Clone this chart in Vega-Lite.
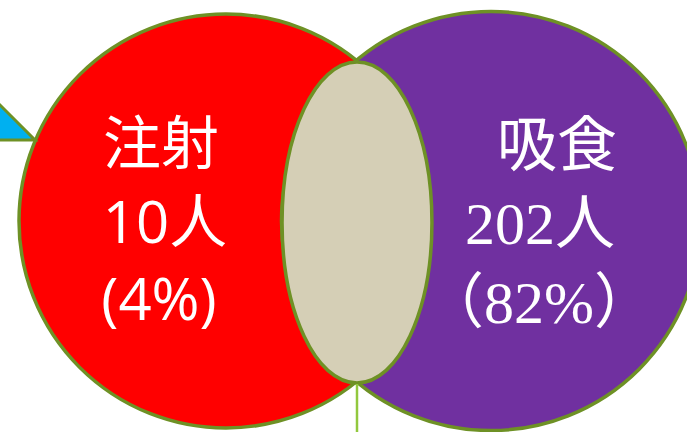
{
  "$schema": "https://vega.github.io/schema/vega-lite/v6.json",
  "width": 687,
  "height": 432,
  "autosize": "none",
  "padding": 0,
  "background": "white",
  "config": {"view": {"stroke": null}},
  "layer": [
    {
      "data": {"values": [{"set": "注射", "cx": 226, "cy": 221}]},
      "mark": {"type": "point", "shape": "circle", "filled": true, "fill": "#FF0000", "stroke": "#6E9125", "strokeWidth": 3.5, "opacity": 1, "size": 171396},
      "encoding": {
        "x": {"field": "cx", "type": "quantitative", "scale": {"domain": [0, 687], "range": [0, 687], "nice": false, "zero": false}, "axis": null},
        "y": {"field": "cy", "type": "quantitative", "scale": {"domain": [0, 432], "range": [0, 432], "nice": false, "zero": false}, "axis": null}
      }
    },
    {
      "data": {"values": [{"set": "吸食", "cx": 491, "cy": 221}]},
      "mark": {"type": "point", "shape": "circle", "filled": true, "fill": "#7030A0", "stroke": "#6E9125", "strokeWidth": 3.5, "opacity": 1, "size": 175561},
      "encoding": {
        "x": {"field": "cx", "type": "quantitative", "scale": {"domain": [0, 687], "range": [0, 687], "nice": false, "zero": false}, "axis": null},
        "y": {"field": "cy", "type": "quantitative", "scale": {"domain": [0, 432], "range": [0, 432], "nice": false, "zero": false}, "axis": null}
      }
    },
    {
      "data": {"values": [{"set": "both", "cx": 357, "cy": 222.5}]},
      "mark": {"type": "point", "shape": "M -0.467 0 A 0.467 1 0 1 1 0.467 0 A 0.467 1 0 1 1 -0.467 0 Z", "filled": true, "fill": "#D5CFB6", "stroke": "#6E9125", "strokeWidth": 3.5, "opacity": 1, "size": 103041},
      "encoding": {
        "x": {"field": "cx", "type": "quantitative", "scale": {"domain": [0, 687], "range": [0, 687], "nice": false, "zero": false}, "axis": null},
        "y": {"field": "cy", "type": "quantitative", "scale": {"domain": [0, 432], "range": [0, 432], "nice": false, "zero": false}, "axis": null}
      }
    },
    {
      "data": {"values": [{"x": 357, "y": 384, "y2": 432}]},
      "mark": {"type": "rule", "color": "#92C83E", "strokeWidth": 2.5},
      "encoding": {
        "x": {"field": "x", "type": "quantitative", "scale": {"domain": [0, 687], "range": [0, 687], "nice": false, "zero": false}, "axis": null},
        "y": {"field": "y", "type": "quantitative", "scale": {"domain": [0, 432], "range": [0, 432], "nice": false, "zero": false}, "axis": null},
        "y2": {"field": "y2"}
      }
    },
    {
      "data": {"values": [{"x": -5, "y": 100}]},
      "mark": {"type": "point", "shape": "M -1 -1 L 1 1 L -1 1 Z", "filled": true, "fill": "#00B0F0", "stroke": "#6E9125", "strokeWidth": 3, "opacity": 1, "size": 6400},
      "encoding": {
        "x": {"field": "x", "type": "quantitative", "scale": {"domain": [0, 687], "range": [0, 687], "nice": false, "zero": false}, "axis": null},
        "y": {"field": "y", "type": "quantitative", "scale": {"domain": [0, 432], "range": [0, 432], "nice": false, "zero": false}, "axis": null}
      }
    },
    {
      "data": {"values": [
        {"label": "注射", "x": 161, "y": 147},
        {"label": "10人", "x": 165, "y": 226},
        {"label": "(4%)", "x": 159, "y": 303}
      ]},
      "mark": {"type": "text", "font": "Open Sans, Noto Sans CJK SC", "fontSize": 58, "color": "white", "align": "center", "baseline": "middle"},
      "encoding": {
        "x": {"field": "x", "type": "quantitative", "scale": {"domain": [0, 687], "range": [0, 687], "nice": false, "zero": false}, "axis": null},
        "y": {"field": "y", "type": "quantitative", "scale": {"domain": [0, 432], "range": [0, 432], "nice": false, "zero": false}, "axis": null},
        "text": {"field": "label"}
      }
    },
    {
      "data": {"values": [
        {"label": "吸食", "x": 557, "y": 148},
        {"label": "202人", "x": 540, "y": 226},
        {"label": "（82%）", "x": 539, "y": 305}
      ]},
      "mark": {"type": "text", "font": "Liberation Serif, Noto Sans CJK JP", "fontSize": 60, "color": "white", "align": "center", "baseline": "middle"},
      "encoding": {
        "x": {"field": "x", "type": "quantitative", "scale": {"domain": [0, 687], "range": [0, 687], "nice": false, "zero": false}, "axis": null},
        "y": {"field": "y", "type": "quantitative", "scale": {"domain": [0, 432], "range": [0, 432], "nice": false, "zero": false}, "axis": null},
        "text": {"field": "label"}
      }
    }
  ]
}
